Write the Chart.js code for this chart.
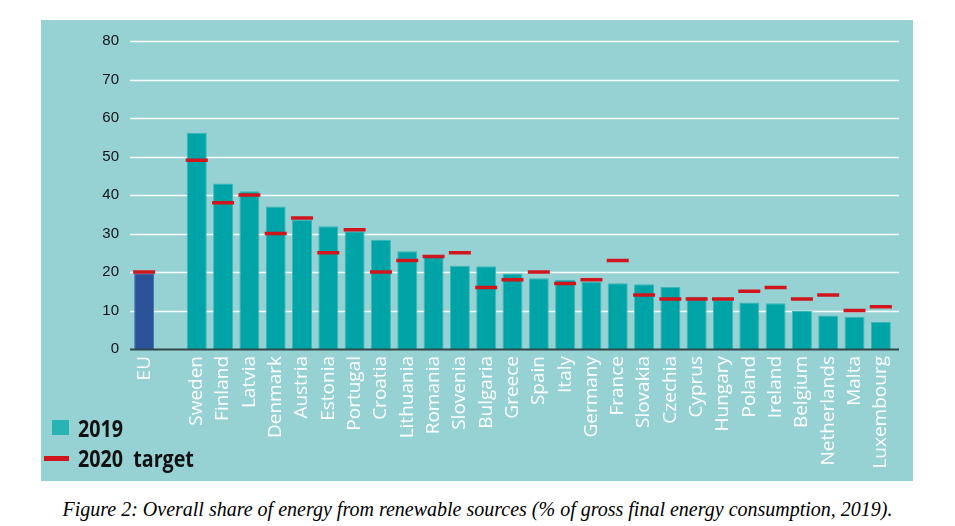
<!DOCTYPE html>
<html>
<head>
<meta charset="utf-8">
<script src="https://cdn.jsdelivr.net/npm/chart.js@4.4.1/dist/chart.umd.min.js"></script>
<style>
  html, body { margin: 0; padding: 0; background: #fff; }
  body { width: 955px; height: 526px; position: relative; overflow: hidden; }
  #panel { position: absolute; left: 41px; top: 20px; width: 872px; height: 461px; background: #96d1d3; }
  #panel canvas { position: absolute; left: 0; top: 0; }
  .legend-item { position: absolute; left: 37px; font-family: 'Open Sans', sans-serif; font-weight: 700;
    font-size: 24px; line-height: 24px; color: #111; transform: scaleX(0.82); transform-origin: left center; white-space: nowrap; }
  .swatch { position: absolute; }
  #caption { position: absolute; left: 0; width: 955px; top: 498px; text-align: center;
    font-family: 'Liberation Serif', 'Times New Roman', serif; font-style: italic; font-size: 20px; color: #000; }
</style>
</head>
<body>
<div id="panel">
  <canvas id="chart" width="872" height="461"></canvas>
  <div class="swatch" style="left:11px; top:400px; width:17px; height:15px; background:#2ab3b3;"></div>
  <div class="legend-item" style="top:396px;">2019</div>
  <div class="swatch" style="left:3px; top:436px; width:25px; height:5px; background:#d0161c;"></div>
  <div class="legend-item" style="top:426px;">2020&nbsp; target</div>
</div>
<div id="caption">Figure 2: Overall share of energy from renewable sources (% of gross final energy consumption, 2019).</div>

<script>
/* =========================
   DATA
========================= */
const categories = [
  "EU", "",
  "Sweden", "Finland", "Latvia", "Denmark", "Austria", "Estonia", "Portugal",
  "Croatia", "Lithuania", "Romania", "Slovenia", "Bulgaria", "Greece", "Spain",
  "Italy", "Germany", "France", "Slovakia", "Czechia", "Cyprus", "Hungary",
  "Poland", "Ireland", "Belgium", "Netherlands", "Malta", "Luxembourg"
];

const share2019 = [
  19.7, null,
  56.2, 43.0, 41.0, 37.0, 33.6, 31.9, 30.6,
  28.4, 25.4, 24.2, 21.6, 21.5, 19.6, 18.4,
  18.0, 17.4, 17.1, 16.8, 16.1, 13.6, 12.7,
  12.1, 11.9, 9.9, 8.7, 8.4, 7.0
];

const target2020 = [
  20, null,
  49, 38, 40, 30, 34, 25, 31,
  20, 23, 24, 25, 16, 18, 20,
  17, 18, 23, 14, 13, 13, 13,
  15, 16, 13, 14, 10, 11
];

const yTicks = [0, 10, 20, 30, 40, 50, 60, 70, 80];

/* =========================
   COLOURS
========================= */
const TEAL = "#00a4a7";
const EU_BLUE = "#2a5298";
const RED = "#d0161c";

/* =========================
   GRID (extends a little past the bars, like the original)
========================= */
const panelGrid = {
  id: "panelGrid",
  beforeDatasetsDraw(chart) {
    const { ctx, chartArea, scales: { y } } = chart;
    ctx.save();
    ctx.strokeStyle = "rgba(255,255,255,0.95)";
    ctx.lineWidth = 1.5;
    yTicks.filter(v => v > 0).forEach(v => {
      const py = Math.round(y.getPixelForValue(v)) + 0.5;
      ctx.beginPath();
      ctx.moveTo(chartArea.left - 1, py);
      ctx.lineTo(chartArea.right + 5, py);
      ctx.stroke();
    });
    ctx.restore();
  },
  afterDatasetsDraw(chart) {
    const { ctx, chartArea, scales: { y } } = chart;
    const py = Math.round(y.getPixelForValue(0)) + 0.5;
    ctx.save();
    ctx.strokeStyle = "#31494b";
    ctx.lineWidth = 2;
    ctx.beginPath();
    ctx.moveTo(chartArea.left - 1, py);
    ctx.lineTo(chartArea.right + 5, py);
    ctx.stroke();
    ctx.restore();
  }
};

/* =========================
   CHART
========================= */
new Chart(document.getElementById("chart"), {
  type: "bar",
  data: {
    labels: categories,
    datasets: [
      {
        label: "2019",
        data: share2019,
        backgroundColor: categories.map(c => c === "EU" ? EU_BLUE : TEAL),
        borderColor: categories.map(c => c === "EU" ? "#4a6fb0" : "#3cb8ba"),
        borderWidth: 1,
        barPercentage: 0.76,
        categoryPercentage: 1,
        order: 2
      },
      {
        label: "2020 target",
        type: "line",
        data: target2020,
        showLine: false,
        pointStyle: "line",
        pointRadius: 11,
        pointHoverRadius: 11,
        pointBorderWidth: 3.5,
        pointBorderColor: RED,
        borderColor: RED,
        order: 1
      }
    ]
  },
  options: {
    responsive: false,
    animation: false,
    layout: { padding: { top: 17, right: 19, left: 0, bottom: 0 } },
    plugins: {
      legend: { display: false },
      tooltip: { enabled: false }
    },
    scales: {
      x: {
        offset: true,
        grid: { display: false, drawTicks: false },
        border: { display: false },
        ticks: {
          color: "#ffffff",
          font: { family: "Open Sans", size: 19 },
          maxRotation: 90,
          minRotation: 90,
          padding: 7,
          autoSkip: false
        },
        afterFit: s => { s.height = 132; }
      },
      y: {
        min: 0,
        max: 80,
        grid: { display: false, drawTicks: false },
        border: { display: false },
        ticks: {
          stepSize: 10,
          color: "#141414",
          font: { family: "Liberation Sans", size: 15 },
          padding: 12
        },
        afterFit: s => { s.width = 90; }
      }
    }
  },
  plugins: [panelGrid]
});
</script>
</body>
</html>
